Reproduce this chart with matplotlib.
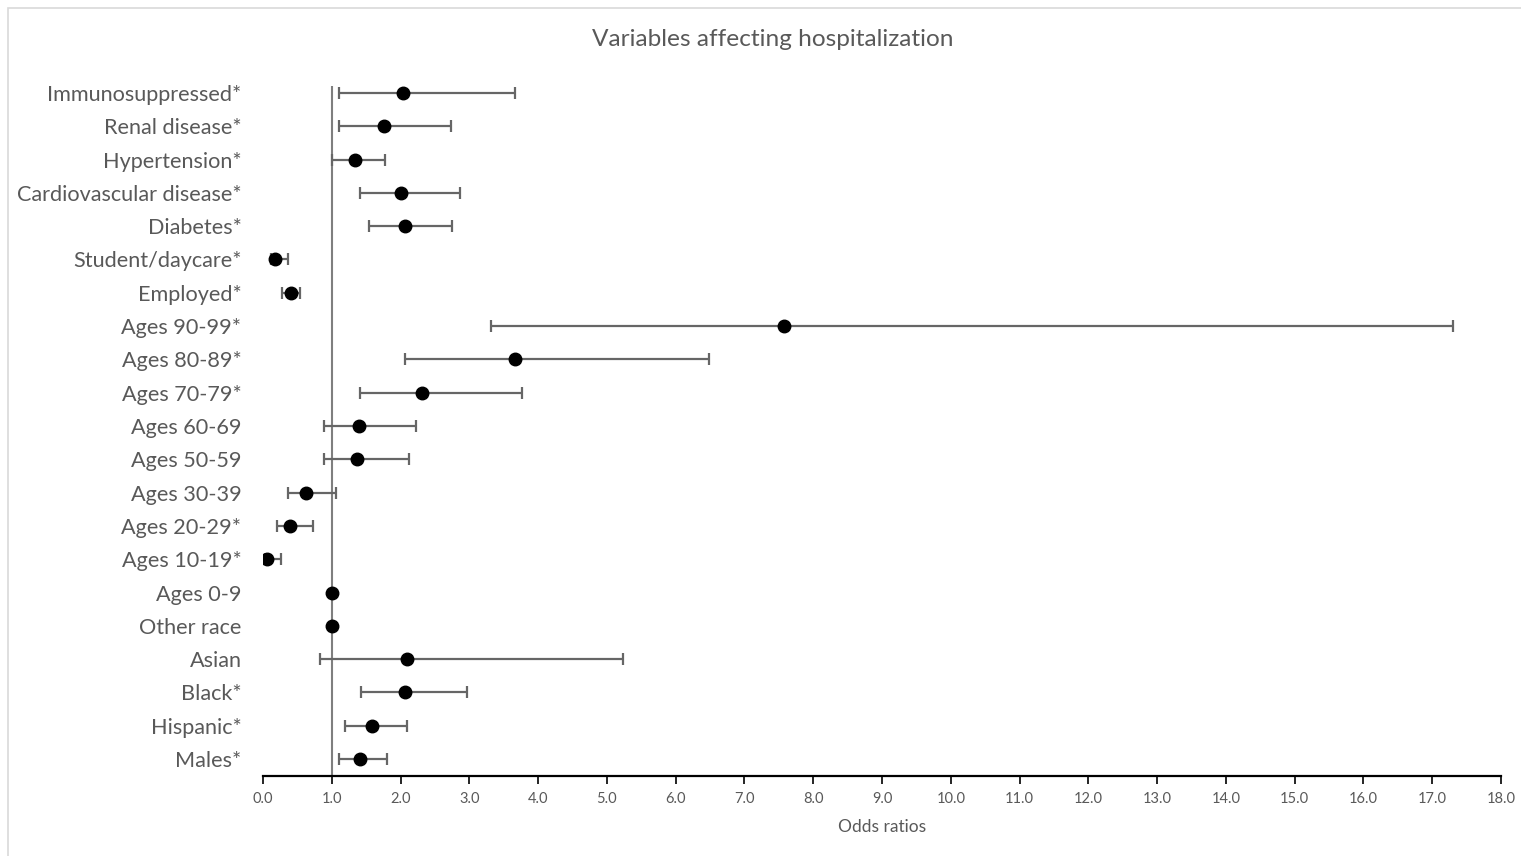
import matplotlib.pyplot as plt
import matplotlib.patches as mpatches
import numpy as np

plt.rcParams['font.family'] = ['Lato', 'DejaVu Sans']

# Data (top row first)
labels = ['Immunosuppressed*', 'Renal disease*', 'Hypertension*',
          'Cardiovascular disease*', 'Diabetes*', 'Student/daycare*',
          'Employed*', 'Ages 90-99*', 'Ages 80-89*', 'Ages 70-79*',
          'Ages 60-69', 'Ages 50-59', 'Ages 30-39', 'Ages 20-29*',
          'Ages 10-19*', 'Ages 0-9', 'Other race', 'Asian', 'Black*',
          'Hispanic*', 'Males*']
odds = [2.03, 1.76, 1.34, 2.01, 2.06, 0.17, 0.40, 7.58, 3.66, 2.31,
        1.40, 1.37, 0.63, 0.39, 0.06, 1.00, 1.00, 2.09, 2.06, 1.59, 1.41]
lower = [1.11, 1.11, 1.00, 1.41, 1.54, 0.11, 0.28, 3.32, 2.07, 1.41,
         0.88, 0.88, 0.37, 0.21, 0.03, 1.00, 1.00, 0.83, 1.42, 1.19, 1.11]
upper = [3.67, 2.73, 1.77, 2.86, 2.75, 0.36, 0.54, 17.30, 6.48, 3.77,
         2.22, 2.13, 1.06, 0.72, 0.26, 1.00, 1.00, 5.24, 2.96, 2.10, 1.81]
x_ticks = np.arange(0, 18.5, 1.0)

text_grey = '#595959'

fig = plt.figure(figsize=(15.21, 8.56), dpi=100)
fig.patch.set_facecolor('white')

# chart-area border like the Excel frame
frame = mpatches.Rectangle((8 / 1521, -0.01), 1.2, (856 - 8) / 856 + 0.01,
                           transform=fig.transFigure, fill=False,
                           edgecolor='#d9d9d9', linewidth=1.2)
fig.add_artist(frame)

ax = fig.add_axes([263 / 1521, (856 - 775.7) / 856,
                   (1501 - 263) / 1521, (775.7 - 86.3) / 856])

n = len(labels)
y = np.arange(n)[::-1]
odds_a = np.array(odds)
xerr = [odds_a - np.array(lower), np.array(upper) - odds_a]

ax.axvline(1.0, color='#7f7f7f', linewidth=1.5, zorder=1)
ax.errorbar(odds, y, xerr=xerr, fmt='none', ecolor='#666666',
            elinewidth=1.6, capsize=4.5, capthick=1.6, zorder=2)
ax.plot(odds, y, 'o', color='black', markersize=9, zorder=3)

ax.set_xlim(0, 18)
ax.set_ylim(-0.5, n - 1 + 0.2)
ax.set_xticks(x_ticks)
ax.set_xticklabels([f'{v:.1f}' for v in x_ticks], color=text_grey, fontsize=10.5)
ax.set_yticks(y)
ax.set_yticklabels(labels, color=text_grey, fontsize=15.6)
ax.tick_params(axis='y', length=0, pad=15.5)
ax.tick_params(axis='x', direction='out', length=6, width=1.2,
               color='black', pad=6)

for side in ['top', 'right', 'left']:
    ax.spines[side].set_visible(False)
ax.spines['bottom'].set_color('black')
ax.spines['bottom'].set_linewidth(1.6)

ax.set_xlabel('Odds ratios', color=text_grey, fontsize=12.5, labelpad=9)

fig.text(773 / 1521, 1 - 39 / 856, 'Variables affecting hospitalization',
         ha='center', va='center', fontsize=17.6, color=text_grey)

fig.savefig('out.png', dpi=100, facecolor='white')
